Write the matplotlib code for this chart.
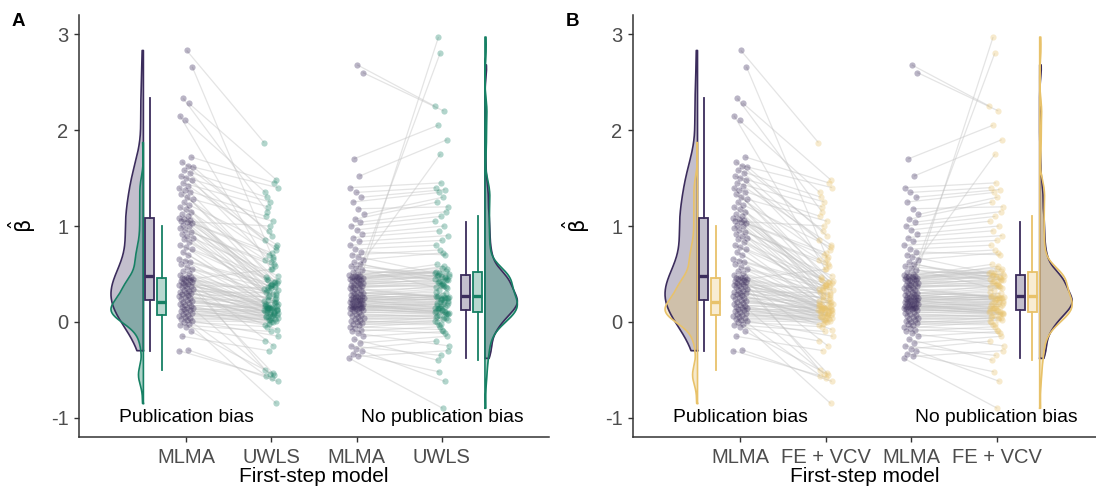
import matplotlib
matplotlib.use("Agg")
import matplotlib.pyplot as plt
from matplotlib.collections import LineCollection
from matplotlib.colors import to_rgba
import numpy as np

plt.rcParams['font.family'] = ['Liberation Sans', 'DejaVu Sans']
plt.rcParams['axes.unicode_minus'] = False
plt.rcParams['mathtext.fontset'] = 'dejavusans'

# --- data: estimates per study, paired by index (MLMA vs. second model) ---
mlma_pb = [-0.30, -0.29, -0.15, -0.10, -0.05, -0.03, -0.02, 0.00, 0.01, 0.02,
           0.03, 0.04, 0.05, 0.06, 0.07, 0.08, 0.09, 0.10, 0.11, 0.12,
           0.13, 0.14, 0.15, 0.16, 0.17, 0.18, 0.19, 0.20, 0.21, 0.22,
           0.23, 0.24, 0.25, 0.26, 0.27, 0.28, 0.29, 0.30, 0.30, 0.31,
           0.32, 0.33, 0.34, 0.35, 0.36, 0.37, 0.38, 0.39, 0.40, 0.41,
           0.42, 0.42, 0.43, 0.44, 0.45, 0.45, 0.46, 0.46, 0.47, 0.47,
           0.49, 0.51, 0.53, 0.55, 0.57, 0.60, 0.62, 0.64, 0.66, 0.70,
           0.73, 0.76, 0.78, 0.80, 0.83, 0.86, 0.88, 0.90, 0.92, 0.94,
           0.96, 0.98, 1.00, 1.01, 1.03, 1.04, 1.05, 1.06, 1.07, 1.08,
           1.10, 1.12, 1.15, 1.18, 1.20, 1.22, 1.25, 1.28, 1.30, 1.33,
           1.35, 1.38, 1.40, 1.42, 1.45, 1.48, 1.50, 1.52, 1.55, 1.58,
           1.62, 1.63, 1.67, 1.72, 2.10, 2.15, 2.28, 2.33, 2.66, 2.83]
uwls_pb = [-0.58, -0.62, -0.30, -0.55, -0.20, -0.10, -0.85, -0.05, 0.00, -0.15,
           0.02, 0.03, -0.56, 0.04, 0.07, 0.05, 0.08, -0.03, 0.10, 0.01,
           0.12, 0.06, 0.09, -0.02, 0.14, 0.11, 0.00, 0.13, 0.15, 0.07,
           0.12, -0.54, 0.20, 0.05, 0.15, -0.08, 0.26, 0.09, 0.17, 0.02,
           0.30, 0.10, -0.53, 0.19, 0.14, 0.24, 0.06, 0.35, 0.12, 0.18,
           -0.25, 0.22, 0.08, 0.28, 0.16, 0.55, 0.04, 0.32, 0.10, -0.50,
           0.13, 0.21, 0.15, 0.29, 0.33, 0.14, 0.36, 0.18, 0.40, 0.12,
           0.23, 0.42, 0.19, 0.37, 0.25, 0.45, 0.16, 0.48, 0.27, 0.58,
           0.31, 0.62, 0.17, 0.44, 0.68, 0.34, 1.00, 0.39, 0.47, 0.72,
           0.41, 0.36, 0.21, 0.65, 0.38, 0.78, 0.33, 1.05, 0.43, 0.70,
           0.42, 1.10, 0.39, 0.80, 1.20, 0.60, 0.85, 1.25, 0.75, 1.30,
           0.90, 1.40, 0.95, 1.45, 1.35, 0.55, 1.48, 1.15, 0.66, 1.87]
mlma_np = [-0.38, -0.36, -0.33, -0.30, -0.28, -0.25, -0.22, -0.18, -0.15, -0.12,
           -0.10, -0.08, -0.06, -0.05, -0.03, -0.02, -0.01, 0.00, 0.01, 0.02,
           0.03, 0.04, 0.05, 0.06, 0.07, 0.08, 0.09, 0.10, 0.11, 0.12,
           0.13, 0.13, 0.14, 0.14, 0.15, 0.15, 0.16, 0.16, 0.17, 0.17,
           0.18, 0.18, 0.19, 0.19, 0.20, 0.20, 0.21, 0.21, 0.22, 0.22,
           0.23, 0.23, 0.24, 0.24, 0.25, 0.25, 0.26, 0.26, 0.27, 0.27,
           0.28, 0.29, 0.30, 0.30, 0.31, 0.32, 0.33, 0.34, 0.35, 0.35,
           0.36, 0.37, 0.38, 0.39, 0.40, 0.40, 0.41, 0.42, 0.43, 0.44,
           0.44, 0.45, 0.45, 0.46, 0.46, 0.47, 0.47, 0.48, 0.48, 0.49,
           0.50, 0.52, 0.54, 0.56, 0.58, 0.60, 0.62, 0.65, 0.68, 0.70,
           0.73, 0.76, 0.80, 0.84, 0.88, 0.92, 0.96, 1.00, 1.04, 1.07,
           1.12, 1.18, 1.25, 1.30, 1.35, 1.40, 1.52, 1.70, 2.60, 2.68]
uwls_np = [-0.90, -0.30, -0.52, -0.62, -0.20, -0.35, -0.15, -0.40, -0.10, -0.25,
           -0.05, -0.12, 0.00, -0.08, 0.02, -0.03, 0.05, 0.01, -0.02, 0.04,
           0.06, 0.03, 0.08, 0.07, 0.10, 0.05, 0.12, 0.09, 0.14, 0.11,
           0.10, 0.15, 0.08, 0.18, 0.12, 0.20, 0.14, 0.22, 0.11, 0.17,
           0.25, 0.13, 0.19, 0.09, 0.21, 0.16, 0.27, 0.24, 0.18, 2.97,
           0.26, 0.15, 0.23, 0.30, 0.20, 0.28, 0.22, 0.33, 0.25, 0.31,
           0.24, 0.35, 0.27, 0.38, 0.26, 2.80, 0.36, 0.26, 0.40, 0.25,
           0.42, 0.37, 0.45, 0.39, 0.44, 0.48, 0.41, 0.50, 0.43, 0.46,
           0.52, 0.47, 0.55, 0.49, 0.58, 0.51, 1.75, 0.53, 0.60, 0.56,
           0.44, 0.51, 0.47, 0.36, 0.50, 0.45, 0.42, 0.72, 0.48, 0.75,
           0.70, 0.80, 0.85, 0.90, 0.95, 1.00, 1.05, 1.10, 1.15, 1.25,
           1.30, 1.20, 1.35, 1.38, 1.40, 1.45, 1.90, 2.05, 2.20, 2.25]
# FE + VCV gives the same point estimates as UWLS
fevcv_pb = list(uwls_pb)
fevcv_np = list(uwls_np)

group_labels = ["Publication bias", "No publication bias"]
ticks_a = ["MLMA", "UWLS", "MLMA", "UWLS"]
ticks_b = ["MLMA", "FE + VCV", "MLMA", "FE + VCV"]

PURPLE = "#3b2c5c"
GREEN = "#168064"
GOLD = "#e8c26a"


def half_density(ax, vals, base, direction, color, alpha):
    v = np.asarray(vals)
    q1, q3 = np.percentile(v, [25, 75])
    bw = 0.9 * min(v.std(ddof=1), (q3 - q1) / 1.34) * len(v) ** -0.2
    y = np.linspace(v.min(), v.max(), 400)
    d = np.exp(-0.5 * ((y[:, None] - v[None, :]) / bw) ** 2).sum(1)
    x = base + direction * d / d.max() * 0.38
    ax.fill_betweenx(y, base, x, color=color, alpha=alpha, lw=0)
    ax.plot(np.r_[base, x, base, base], np.r_[y[0], y, y[-1], y[0]],
            color=color, lw=1.2)


def box(ax, vals, pos, color):
    ax.boxplot(vals, positions=[pos], widths=0.105, patch_artist=True,
               showfliers=False, showcaps=False, manage_ticks=False,
               boxprops=dict(facecolor=to_rgba(color, 0.3), edgecolor=color, lw=1.3),
               medianprops=dict(color=color, lw=2.4),
               whiskerprops=dict(color=color, lw=1.3))


def jitter(n):
    return ((np.arange(n) * 0.618034) % 1 - 0.5) * 0.17


def pairs(ax, left, right, x0, x1, c_right):
    xl = x0 + jitter(len(left))
    xr = x1 + jitter(len(right))[::-1]
    segs = [[(a, b), (c, d)] for a, b, c, d in zip(xl, left, xr, right)]
    ax.add_collection(LineCollection(segs, colors="#c4c4c4", alpha=0.45, lw=0.9))
    ax.scatter(xl, left, s=20, color=PURPLE, alpha=0.35, lw=0, zorder=3)
    ax.scatter(xr, right, s=20, color=c_right, alpha=0.33, lw=0, zorder=3)


def panel(ax, m_pb, o_pb, m_np, o_np, col, ticks, xmax, fill_a):
    half_density(ax, m_pb, 0.5, -1, PURPLE, 0.3)
    half_density(ax, o_pb, 0.5, -1, col, fill_a)
    half_density(ax, m_np, 4.505, 1, PURPLE, 0.3)
    half_density(ax, o_np, 4.505, 1, col, fill_a)
    box(ax, m_pb, 0.575, PURPLE)
    box(ax, o_pb, 0.715, col)
    box(ax, m_np, 4.28, PURPLE)
    box(ax, o_np, 4.42, col)
    pairs(ax, m_pb, o_pb, 1, 2, col)
    pairs(ax, m_np, o_np, 3, 4, col)
    ax.text(1, -1, group_labels[0], ha="center", va="center", fontsize=13.9)
    ax.text(4, -1, group_labels[1], ha="center", va="center", fontsize=13.9)
    ax.set_xlim(-0.255, xmax)
    ax.set_ylim(-1.2, 3.2)
    ax.set_xticks([1, 2, 3, 4])
    ax.set_xticklabels(ticks)
    ax.set_yticks([-1, 0, 1, 2, 3])
    for s in ["top", "right"]:
        ax.spines[s].set_visible(False)
    for s in ["left", "bottom"]:
        ax.spines[s].set_color("#333333")
        ax.spines[s].set_linewidth(1.1)
    ax.tick_params(length=3.5, width=1, color="#333333", labelcolor="#4d4d4d",
                   labelsize=14.5, pad=4)
    ax.tick_params(axis="x", pad=4.5)
    ax.set_xlabel("First-step model", fontsize=15, labelpad=0)
    ax.set_ylabel(r"$\hat{\mathrm{\beta}}$", fontsize=15)
    ax.yaxis.set_label_coords(-0.088, 0.5)


fig = plt.figure(figsize=(10.96, 4.90), dpi=100)
ax_a = fig.add_axes([79 / 1096, 53 / 490, 470 / 1096, 422 / 490])
ax_b = fig.add_axes([633 / 1096, 53 / 490, 463 / 1096, 422 / 490])

panel(ax_a, mlma_pb, uwls_pb, mlma_np, uwls_np, GREEN, ticks_a, 5.256, 0.35)
panel(ax_b, mlma_pb, fevcv_pb, mlma_np, fevcv_np, GOLD, ticks_b, 5.164, 0.35)

fig.text(12 / 1096, 1 - 22 / 490, "A", fontsize=13.5, fontweight="bold", va="center")
fig.text(566 / 1096, 1 - 22 / 490, "B", fontsize=13.5, fontweight="bold", va="center")

fig.savefig("out.png", dpi=100)
